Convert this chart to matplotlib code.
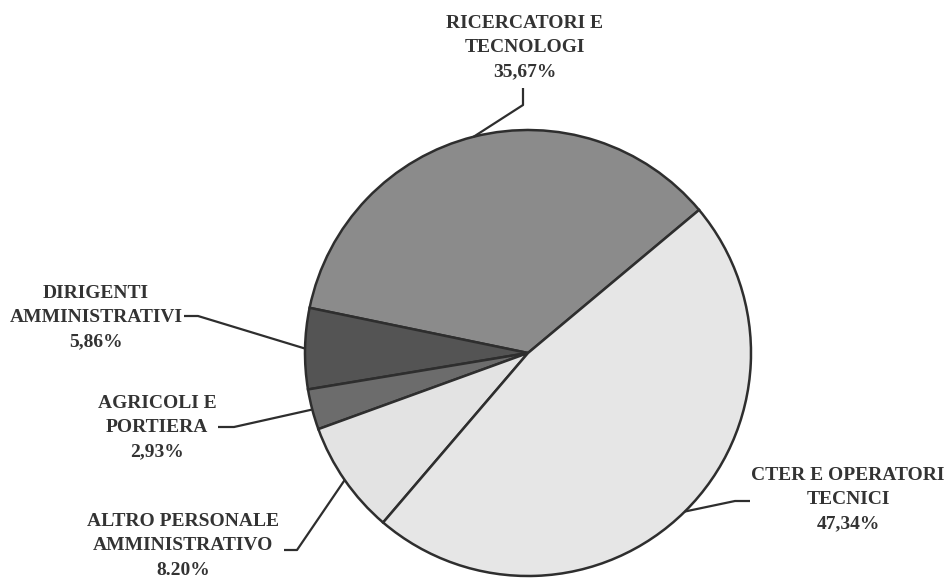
import numpy as np
import matplotlib.pyplot as plt

etichette = ['RICERCATORI E\nTECNOLOGI\n35,67%',
             'DIRIGENTI\nAMMINISTRATIVI\n5,86%',
             'AGRICOLI E\nPORTIERA\n2,93%',
             'ALTRO PERSONALE\nAMMINISTRATIVO\n8.20%',
             'CTER E OPERATORI\nTECNICI\n47,34%']
valori = [35.67, 5.86, 2.93, 8.20, 47.34]
colori = ['#8b8b8b', '#545454', '#6c6c6c', '#e3e3e3', '#e6e6e6']

W, H = 944, 583
fig = plt.figure(figsize=(W / 100, H / 100), dpi=100)
ax = fig.add_axes([0, 0, 1, 1])

cx, cy, r = 528, H - 353, 223
wedges, _ = ax.pie(valori, colors=colori, startangle=39.9, counterclock=True,
                   center=(cx, cy), radius=r, frame=True,
                   wedgeprops=dict(edgecolor='#2e2e2e', linewidth=1.8))
ax.set_xlim(0, W)
ax.set_ylim(0, H)
ax.set_aspect('equal')
ax.axis('off')

# posizione testo (centro), punto finale linea vicino al testo, gomito
testi = [((525, 48), (523, 88), (523, 105)),
         ((96, 318), (184, 316), (198, 316)),
         ((157, 428), (218, 427), (234, 427)),
         ((183, 546), (284, 550), (297, 550)),
         ((848, 500), (750, 501), (735, 501))]

font = dict(family='Liberation Serif', weight='bold', size=14, color='#333333')
for w, lab, (tp, p1, p2) in zip(wedges, etichette, testi):
    ang = np.deg2rad((w.theta1 + w.theta2) / 2)
    ex, ey = cx + r * np.cos(ang), cy + r * np.sin(ang)
    ax.text(tp[0], H - tp[1], lab, ha='center', va='center',
            linespacing=1.55, **font)
    ax.plot([p1[0], p2[0], ex], [H - p1[1], H - p2[1], ey],
            color='#2e2e2e', lw=1.6, solid_capstyle='butt')

fig.savefig('out.png', dpi=100, facecolor='white')
